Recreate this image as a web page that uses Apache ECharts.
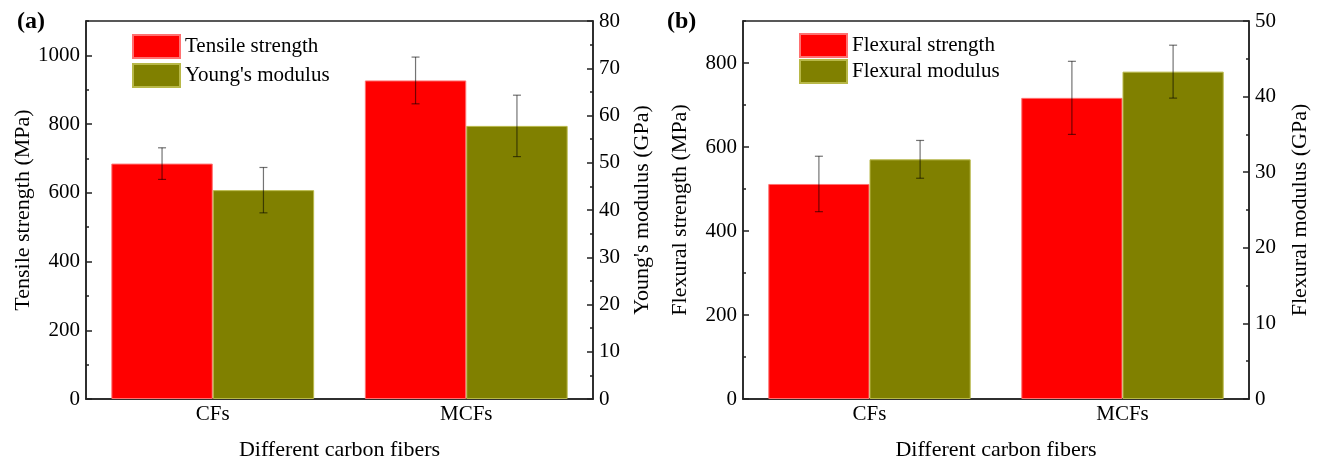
<!DOCTYPE html>
<html>
<head>
<meta charset="utf-8">
<script src="https://cdn.jsdelivr.net/npm/echarts@6/dist/echarts.min.js"></script>
<style>
  html, body { margin: 0; padding: 0; background: #fff; }
  #chart { width: 1322px; height: 461px; }
</style>
</head>
<body>
<div id="chart"></div>
<script>
// Mechanical properties of composites with two kinds of carbon fibers
const categories = ['CFs', 'MCFs'];

// (a) tensile tests
const tensileStrength = [685, 927];      // MPa
const tensileStrengthErr = [46, 68];
const youngsModulus = [44.2, 57.8];      // GPa
const youngsModulusErr = [4.8, 6.5];

// (b) flexural tests
const flexuralStrength = [512, 717];     // MPa
const flexuralStrengthErr = [66, 87];
const flexuralModulus = [31.7, 43.3];    // GPa
const flexuralModulusErr = [2.5, 3.5];

const FONT = '"Liberation Serif", "Times New Roman", "DejaVu Serif", serif';
const AXIS_COLOR = '#222';
const RED = '#ff0000';
const OLIVE = '#808000';

// Bars take 40% of a category band each, so their centres sit 0.2 band from the middle.
function errorBars(values, errs, side, xIdx, yIdx) {
  return {
    type: 'custom',
    xAxisIndex: xIdx,
    yAxisIndex: yIdx,
    z: 5,
    silent: true,
    data: values.map((v, i) => [i, v, errs[i]]),
    renderItem(params, api) {
      const i = api.value(0), v = api.value(1), e = api.value(2);
      const band = api.size([1, 0])[0];
      const top = api.coord([i, v + e]);
      const bot = api.coord([i, v - e]);
      const x = top[0] + side * 0.2 * band;
      const cap = 4;
      const style = { stroke: 'rgba(0,0,0,0.55)', lineWidth: 1.2, fill: null };
      return {
        type: 'group',
        children: [
          { type: 'line', shape: { x1: x, y1: top[1], x2: x, y2: bot[1] }, style },
          { type: 'line', shape: { x1: x - cap, y1: top[1], x2: x + cap, y2: top[1] }, style },
          { type: 'line', shape: { x1: x - cap, y1: bot[1], x2: x + cap, y2: bot[1] }, style }
        ]
      };
    }
  };
}

const plainNumber = (v) => String(v);

function xAxisFor(gridIndex) {
  return {
    type: 'category',
    gridIndex,
    data: categories,
    axisLine: { lineStyle: { color: AXIS_COLOR, width: 1.5 } },
    axisTick: { show: false },
    axisLabel: { color: '#000', fontFamily: FONT, fontSize: 21, margin: 5 },
    name: 'Different carbon fibers',
    nameLocation: 'middle',
    nameGap: 40,
    nameTextStyle: { color: '#000', fontFamily: FONT, fontSize: 22 }
  };
}

function leftAxis(gridIndex, max, name, nameGap) {
  return {
    type: 'value',
    gridIndex,
    position: 'left',
    min: 0,
    max,
    interval: 200,
    axisLine: { show: true, lineStyle: { color: AXIS_COLOR, width: 1.5 } },
    axisTick: { show: true, inside: true, length: 6, lineStyle: { color: AXIS_COLOR, width: 1.5 } },
    axisLabel: { color: '#000', fontFamily: FONT, fontSize: 21, margin: 6, showMaxLabel: false, formatter: plainNumber },
    splitLine: { show: false },
    name,
    nameLocation: 'middle',
    nameGap,
    nameTextStyle: { color: '#000', fontFamily: FONT, fontSize: 22 }
  };
}

// Short ticks every 100 MPa on the strength axes
function leftMinorAxis(gridIndex, max) {
  return {
    type: 'value',
    gridIndex,
    position: 'left',
    min: 0,
    max,
    interval: 100,
    axisLine: { show: false },
    axisTick: { show: true, inside: true, length: 3, lineStyle: { color: AXIS_COLOR, width: 1.5 } },
    axisLabel: { show: false },
    splitLine: { show: false }
  };
}

function rightAxis(gridIndex, max, name, nameGap) {
  return {
    type: 'value',
    gridIndex,
    position: 'right',
    min: 0,
    max,
    interval: 10,
    axisLine: { show: true, lineStyle: { color: AXIS_COLOR, width: 1.5 } },
    axisTick: { show: true, inside: true, length: 6, lineStyle: { color: AXIS_COLOR, width: 1.5 } },
    minorTick: { show: true, splitNumber: 2, length: 3, lineStyle: { color: AXIS_COLOR, width: 1.5 } },
    axisLabel: { color: '#000', fontFamily: FONT, fontSize: 21, margin: 6, formatter: plainNumber },
    splitLine: { show: false },
    name,
    nameLocation: 'middle',
    nameGap,
    nameRotate: 90,
    nameTextStyle: { color: '#000', fontFamily: FONT, fontSize: 22 }
  };
}

function barSeries(name, data, color, border, xIdx, yIdx) {
  return {
    type: 'bar',
    name,
    data,
    xAxisIndex: xIdx,
    yAxisIndex: yIdx,
    barWidth: '40%',
    barGap: '0%',
    itemStyle: { color, borderColor: border, borderWidth: 1 },
    emphasis: { disabled: true }
  };
}

const legendText = { color: '#000', fontFamily: FONT, fontSize: 21 };

const gridBase = {
  top: 21, height: 378, show: true,
  borderColor: AXIS_COLOR, borderWidth: 1.5, backgroundColor: 'transparent',
  containLabel: false, outerBoundsMode: 'none'
};

const option = {
  animation: false,
  backgroundColor: '#fff',
  grid: [
    Object.assign({ left: 86, width: 507 }, gridBase),
    Object.assign({ left: 743, width: 506 }, gridBase)
  ],
  legend: [
    {
      data: ['Tensile strength', "Young's modulus"],
      orient: 'vertical', left: 132, top: 34, padding: 0,
      icon: 'rect', itemWidth: 47, itemHeight: 23, itemGap: 4,
      textStyle: legendText, selectedMode: false
    },
    {
      data: ['Flexural strength', 'Flexural modulus'],
      orient: 'vertical', left: 799, top: 33, padding: 0,
      icon: 'rect', itemWidth: 47, itemHeight: 23, itemGap: 1,
      textStyle: legendText, selectedMode: false
    }
  ],
  xAxis: [xAxisFor(0), xAxisFor(1)],
  yAxis: [
    leftAxis(0, 1100, 'Tensile strength (MPa)', 52),
    rightAxis(0, 80, "Young's modulus (GPa)", 38),
    leftAxis(1, 900, 'Flexural strength (MPa)', 52),
    rightAxis(1, 50, 'Flexural modulus (GPa)', 40),
    leftMinorAxis(0, 1100),
    leftMinorAxis(1, 900)
  ],
  graphic: [
    { type: 'text', left: 17, top: 10, style: { text: '(a)', font: 'bold 24px ' + FONT, fill: '#000' } },
    { type: 'text', left: 667, top: 10, style: { text: '(b)', font: 'bold 24px ' + FONT, fill: '#000' } }
  ],
  series: [
    barSeries('Tensile strength', tensileStrength, RED, '#ff7070', 0, 0),
    barSeries("Young's modulus", youngsModulus, OLIVE, '#b8b848', 0, 1),
    barSeries('Flexural strength', flexuralStrength, RED, '#ff7070', 1, 2),
    barSeries('Flexural modulus', flexuralModulus, OLIVE, '#b8b848', 1, 3),
    errorBars(tensileStrength, tensileStrengthErr, -1, 0, 0),
    errorBars(youngsModulus, youngsModulusErr, 1, 0, 1),
    errorBars(flexuralStrength, flexuralStrengthErr, -1, 1, 2),
    errorBars(flexuralModulus, flexuralModulusErr, 1, 1, 3)
  ]
};

const chart = echarts.init(document.getElementById('chart'), null, { renderer: 'canvas' });
chart.setOption(option);
</script>
</body>
</html>
